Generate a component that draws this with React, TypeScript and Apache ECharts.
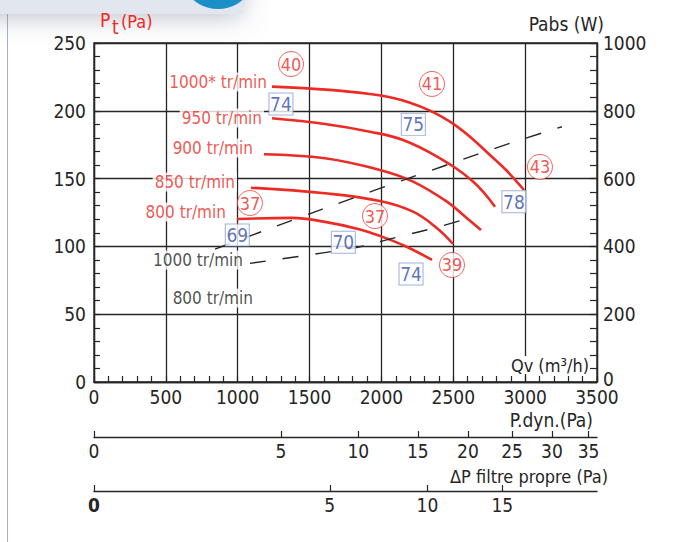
import React, { useEffect, useRef } from "react";
import * as echarts from "echarts";

const FONT = '"Liberation Sans Narrow","DejaVu Sans Condensed","Arial Narrow",sans-serif';
const RED = "#ec2b25";
const BLUE = "#3550a6";
const BOX = "#8a9ed6";
const INK = "#262626";

// Axis ranges
const qvMax = 3500;
const qvStep = 500;
const ptMax = 250;
const ptStep = 50;
const pabsMax = 1000;
const pabsStep = 200;

// Secondary (quadratic) scales under the Qv axis
const pdynTicks = [0, 5, 10, 15, 20, 25, 30, 35];
const filterTicks = [0, 5, 10, 15];
const KDYN = 2.955e-6; // P.dyn = KDYN * Qv^2
const KFILT = 1.858e-6; // dP filtre = KFILT * Qv^2

// Pressure curves [Qv m3/h, Pt Pa]
const curve1000 = [[1238, 217.8], [1642, 215.4], [1920, 212.4], [2060, 210.0], [2199, 206.0], [2338, 200.1], [2477, 192.0], [2616, 180.9], [2755, 167.4], [2874, 155.6], [2992, 141.6]];
const curve950 = [[1238, 194.5], [1607, 190.3], [1920, 184.6], [2150, 178.5], [2387, 166.2], [2637, 147.9], [2790, 129.3]];
const curve900 = [[1183, 168.0], [1607, 165.0], [1990, 156.4], [2220, 147.8], [2456, 133.0], [2595, 120.8], [2693, 112.1]];
const curve850 = [[1092, 143.3], [1607, 139.2], [1990, 133.5], [2220, 125.6], [2387, 113.4], [2498, 101.8]];
const curve800 = [[995, 120.2], [1378, 121.0], [1607, 118.1], [1837, 112.9], [1990, 107.7], [2164, 100.3], [2352, 90.0]];

// Absorbed power curves [Qv m3/h, Pabs W]
const powerUpper = [[842, 392], [1225, 453], [1955, 566], [2419, 635], [2894, 704], [3256, 753]];
const powerLower = [[1085, 350], [1593, 381], [1851, 399], [2106, 427], [2338, 451], [2616, 484]];

// Annotations [Qv, Pt, text]
const circled = [[1371, 234.5, "40"], [2352, 219.8, "41"], [3103, 158.6, "43"], [1085, 132.0, "37"], [1955, 122.4, "37"], [2491, 86.3, "39"]];
const boxed = [[1301, 205.0, "74"], [2222, 190.0, "75"], [2922, 133.0, "78"], [997, 108.4, "69"], [1735, 103.0, "70"], [2206, 79.7, "74"]];
const redSpeedLabels = [[1218, 221.3, "1000* tr/min"], [1183, 194.7, "950 tr/min"], [1120, 172.6, "900 tr/min"], [995, 147.5, "850 tr/min"], [932, 125.4, "800 tr/min"]];
const blackSpeedLabels = [[1051, 90.0, "1000 tr/min"], [1120, 62.0, "800 tr/min"]];

const axisLine = { show: true, onZero: false, lineStyle: { color: INK, width: 1.3 } };
const tickStyle = { color: INK, width: 1.2 };
const labelBase = { color: INK, fontSize: 19, fontFamily: FONT };
const plain = (v: number) => String(v);

export default function App() {
  const ref = useRef<HTMLDivElement>(null);
  useEffect(() => {
    if (!ref.current) return;
    const chart = echarts.init(ref.current, null, { renderer: "svg" });
    const pdynVals = pdynTicks.map((p) => Math.sqrt(p / KDYN));
    const filtVals = filterTicks.map((p) => Math.sqrt(p / KFILT));
    const line = (data: number[][], yAxisIndex: number, lineStyle: any) => ({
      type: "line",
      data,
      xAxisIndex: 0,
      yAxisIndex,
      smooth: 0.4,
      symbol: "none",
      showSymbol: false,
      silent: true,
      z: 3,
      lineStyle,
    });
    const redStyle = { color: RED, width: 2.6 };
    const dashStyle = { color: INK, width: 1.4, type: [16, 17] };
    const option: any = {
      animation: false,
      backgroundColor: "#fff",
      grid: { left: 94, right: 89, top: 43, height: 339, show: true, borderColor: INK, borderWidth: 1.3, backgroundColor: "transparent" },
      xAxis: [
        {
          type: "value", min: 0, max: qvMax, interval: qvStep, position: "bottom",
          axisLine,
          axisTick: { show: true, inside: true, length: 6, lineStyle: tickStyle },
          minorTick: { show: true, splitNumber: 5, length: 6, lineStyle: tickStyle },
          splitLine: { show: true, lineStyle: { color: INK, width: 1.3 } },
          axisLabel: { ...labelBase, margin: 5, formatter: plain },
        },
        {
          type: "value", min: 0, max: qvMax, position: "bottom", offset: 55,
          axisLine,
          axisTick: { show: true, inside: true, length: 6, lineStyle: tickStyle, customValues: pdynVals },
          splitLine: { show: false },
          axisLabel: { ...labelBase, margin: 4, customValues: pdynVals, formatter: (v: number) => String(Math.round(KDYN * v * v)) },
        },
        {
          type: "value", min: 0, max: qvMax, position: "bottom", offset: 109,
          axisLine,
          axisTick: { show: true, inside: true, length: 6, lineStyle: tickStyle, customValues: filtVals },
          splitLine: { show: false },
          axisLabel: {
            ...labelBase, margin: 4, customValues: filtVals,
            formatter: (v: number) => {
              const t = Math.round(KFILT * v * v);
              return t === 0 ? "{b|0}" : String(t);
            },
            rich: { b: { ...labelBase, fontWeight: "bold" } },
          },
        },
      ],
      yAxis: [
        {
          type: "value", min: 0, max: ptMax, interval: ptStep, position: "left",
          axisLine,
          axisTick: { show: true, inside: true, length: 6, lineStyle: tickStyle },
          minorTick: { show: true, splitNumber: 5, length: 6, lineStyle: tickStyle },
          splitLine: { show: true, lineStyle: { color: INK, width: 1.3 } },
          axisLabel: { ...labelBase, margin: 8, formatter: plain },
        },
        {
          type: "value", min: 0, max: pabsMax, interval: pabsStep, position: "right",
          axisLine,
          axisTick: { show: true, inside: true, length: 7, lineStyle: tickStyle },
          minorTick: { show: true, splitNumber: 5, length: 7, lineStyle: tickStyle },
          splitLine: { show: false },
          axisLabel: {
            ...labelBase, margin: 6, verticalAlign: "middle",
            formatter: (v: number) => (v === 0 ? "{z|0}" : String(v)),
            rich: { z: { ...labelBase, padding: [0, 0, 7, 0] } },
          },
        },
      ],
      series: [
        line(curve1000, 0, redStyle),
        line(curve950, 0, redStyle),
        line(curve900, 0, redStyle),
        line(curve850, 0, redStyle),
        line(curve800, 0, redStyle),
        line(powerUpper, 1, dashStyle),
        line(powerLower, 1, dashStyle),
        {
          type: "scatter", xAxisIndex: 0, yAxisIndex: 0, silent: true, z: 10,
          symbol: "circle", symbolSize: 25,
          itemStyle: { color: "#fff", borderColor: RED, borderWidth: 0.9 },
          label: { show: true, position: "inside", formatter: (p: any) => p.data[2], color: RED, fontSize: 18, fontFamily: FONT },
          data: circled,
        },
        {
          type: "scatter", xAxisIndex: 0, yAxisIndex: 0, silent: true, z: 10,
          symbol: "rect", symbolSize: [24, 22],
          itemStyle: { color: "#fff", borderColor: BOX, borderWidth: 1 },
          label: { show: true, position: "inside", formatter: (p: any) => p.data[2], color: BLUE, fontSize: 19, fontFamily: FONT },
          data: boxed,
        },
        {
          type: "scatter", xAxisIndex: 0, yAxisIndex: 0, silent: true, z: 9,
          symbolSize: 0,
          label: { show: true, position: "left", distance: 0, formatter: (p: any) => p.data[2], color: RED, fontSize: 17, fontFamily: FONT, backgroundColor: "#fff", padding: [1, 2, 1, 2] },
          data: redSpeedLabels,
        },
        {
          type: "scatter", xAxisIndex: 0, yAxisIndex: 0, silent: true, z: 9,
          symbolSize: 0,
          label: { show: true, position: "left", distance: 0, formatter: (p: any) => p.data[2], color: "#1e1e1e", fontSize: 17, fontFamily: FONT, backgroundColor: "#fff", padding: [1, 2, 1, 2] },
          data: blackSpeedLabels,
        },
      ],
      graphic: [
        { type: "line", shape: { x1: 7.5, y1: 0, x2: 7.5, y2: 542 }, style: { stroke: "#a7b1c0", lineWidth: 1 }, z: 1 },
        { type: "rect", shape: { x: -30, y: -40, width: 272, height: 54 }, style: { fill: "#e2e6ee", shadowBlur: 26, shadowColor: "rgba(110,120,140,0.5)", shadowOffsetY: 2 }, z: 1 },
        { type: "circle", shape: { cx: 218, cy: -29, r: 38 }, style: { fill: "#1b8fc8" }, z: 2 },
        { type: "text", x: 100, y: 20, style: { text: "P", fill: RED, font: `19px ${FONT}`, verticalAlign: "middle" }, z: 20 },
        { type: "text", x: 112, y: 27, style: { text: "t", fill: RED, font: `19px ${FONT}`, verticalAlign: "middle" }, z: 20 },
        { type: "text", x: 121, y: 21, style: { text: "(Pa)", fill: RED, font: `18px ${FONT}`, verticalAlign: "middle" }, z: 20 },
        { type: "text", x: 604, y: 24, style: { text: "Pabs (W)", fill: INK, font: `19px ${FONT}`, align: "right", verticalAlign: "middle" }, z: 20 },
        { type: "text", x: 589, y: 365, style: { text: "Qv (m³/h)", fill: INK, font: `18px ${FONT}`, align: "right", verticalAlign: "middle", backgroundColor: "#fff" }, z: 20 },
        { type: "text", x: 593, y: 420, style: { text: "P.dyn.(Pa)", fill: INK, font: `19px ${FONT}`, align: "right", verticalAlign: "middle" }, z: 20 },
        { type: "text", x: 608, y: 476, style: { text: "ΔP filtre propre (Pa)", fill: INK, font: `18px ${FONT}`, align: "right", verticalAlign: "middle" }, z: 20 },
      ],
    };
    chart.setOption(option);
    return () => chart.dispose();
  }, []);
  return <div ref={ref} style={{ position: "fixed", left: 0, top: 0, width: 686, height: 542 }} />;
}
